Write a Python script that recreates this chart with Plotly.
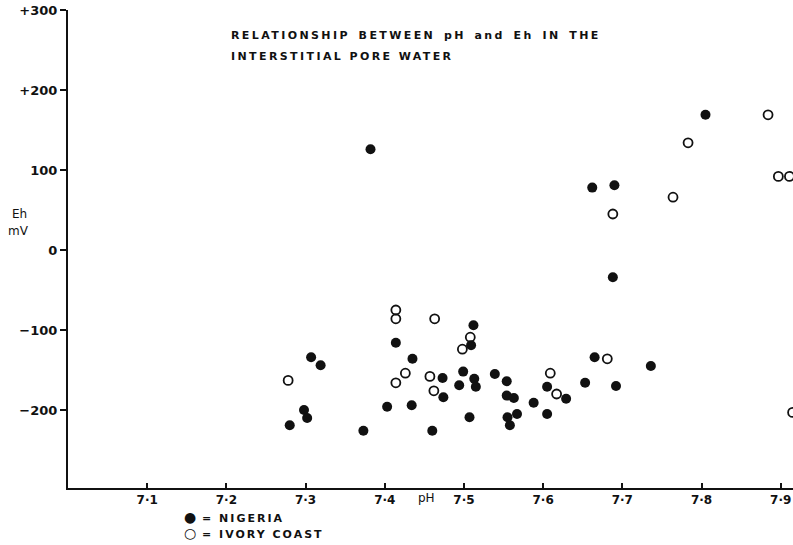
import plotly.graph_objects as go

# Nigeria (filled circles)
nigeria_ph = [7.280, 7.298, 7.302, 7.307, 7.319, 7.382, 7.373, 7.403, 7.414, 7.435,
              7.434, 7.460, 7.473, 7.474, 7.494, 7.499, 7.507, 7.509, 7.512, 7.513,
              7.515, 7.539, 7.554, 7.554, 7.563, 7.555, 7.558, 7.567, 7.588, 7.605,
              7.605, 7.629, 7.653, 7.665, 7.692, 7.736, 7.688, 7.662, 7.690, 7.805]
nigeria_eh = [-219, -200, -210, -134, -144, 126, -226, -196, -116, -136,
              -194, -226, -160, -184, -169, -152, -209, -119, -94, -161,
              -171, -155, -164, -182, -185, -209, -219, -205, -191, -171,
              -205, -186, -166, -134, -170, -145, -34, 78, 81, 169]

# Ivory Coast (open circles)
ivory_ph = [7.278, 7.414, 7.414, 7.414, 7.426, 7.457, 7.462, 7.463, 7.498, 7.508,
            7.609, 7.617, 7.681, 7.688, 7.764, 7.783, 7.884, 7.897, 7.911, 7.915]
ivory_eh = [-163, -75, -86, -166, -154, -158, -176, -86, -124, -109,
            -154, -180, -136, 45, 66, 134, 169, 92, 92, -203]

x_tickvals = [7.1, 7.2, 7.3, 7.4, 7.5, 7.6, 7.7, 7.8, 7.9]
x_ticktext = ["7·1", "7·2", "7·3", "7·4", "7·5", "7·6", "7·7", "7·8", "7·9"]
y_tickvals = [300, 200, 100, 0, -100, -200]
y_ticktext = ["+300", "+200", "100", "0", "−100", "−200"]

title_lines = ["RELATIONSHIP BETWEEN pH and Eh IN THE", "INTERSTITIAL PORE WATER"]

FONT = "DejaVu Sans"
W, H = 793, 545
L, R, T, B = 68, 0, 10, 57
PW, PH = W - L - R, H - T - B

fig = go.Figure()
fig.add_trace(go.Scatter(
    x=nigeria_ph, y=nigeria_eh, mode="markers", name="NIGERIA",
    marker=dict(symbol="circle", size=10, color="#111111", line=dict(width=0)),
))
fig.add_trace(go.Scatter(
    x=ivory_ph, y=ivory_eh, mode="markers", name="IVORY COAST",
    marker=dict(symbol="circle-open", size=9, color="#111111", line=dict(width=1.8)),
))

fig.update_layout(
    width=W, height=H,
    margin=dict(l=L, r=R, t=T, b=B, autoexpand=False),
    paper_bgcolor="white", plot_bgcolor="white",
    showlegend=False,
    font=dict(family=FONT, color="#111111"),
)
fig.update_xaxes(
    range=[7.0, 7.9155], showgrid=False, zeroline=False, automargin=False,
    showline=True, linewidth=2, linecolor="#111111",
    tickvals=x_tickvals, ticktext=x_ticktext,
    ticks="inside", ticklen=5, tickwidth=1.5, tickcolor="#111111",
    tickfont=dict(family=FONT, size=12, weight="bold", color="#111111"),
)
fig.update_yaxes(
    range=[-297.5, 300], showgrid=False, zeroline=False, automargin=False,
    showline=True, linewidth=2, linecolor="#111111",
    tickvals=y_tickvals, ticktext=y_ticktext,
    ticks="outside", ticklen=6, tickwidth=1.5, tickcolor="#111111",
    tickfont=dict(family=FONT, size=13, weight="bold", color="#111111"),
)

def sp(txt, ls, ws=0):
    return f'<span style="letter-spacing:{ls}px;word-spacing:{ws}px">{txt}</span>'

def glyph(g):
    return f'<span style="font-size:14px">{g}</span>'

def px2paper(x, y):
    return (x - L) / PW, (H - B - y) / PH

ann = [
    (229, 36, sp(title_lines[0], 2.4, 2.5)),
    (229, 57, sp(title_lines[1], 2.4, 0)),
    (182, 517, glyph("●") + sp(" = NIGERIA", 2)),
    (182, 533, glyph("○") + sp(" = IVORY COAST", 2)),
]
for x, y, txt in ann:
    px, py = px2paper(x, y)
    fig.add_annotation(
        x=px, y=py, xref="paper", yref="paper",
        xanchor="left", yanchor="middle", showarrow=False, text=txt,
        font=dict(family=FONT, size=11, weight="bold", color="#111111"),
    )
# axis labels
for txt, x, y in [("Eh", 19, 214), ("mV", 18, 231), ("pH", 426, 498)]:
    px, py = px2paper(x, y)
    fig.add_annotation(
        x=px, y=py, xref="paper", yref="paper",
        xanchor="center", yanchor="middle", showarrow=False, text=txt,
        font=dict(family=FONT, size=12, color="#111111"),
    )

fig.write_html(
    "out.html",
    config={"displayModeBar": False},
    post_script="document.body.style.margin='0';document.body.style.overflow='hidden';",
)
